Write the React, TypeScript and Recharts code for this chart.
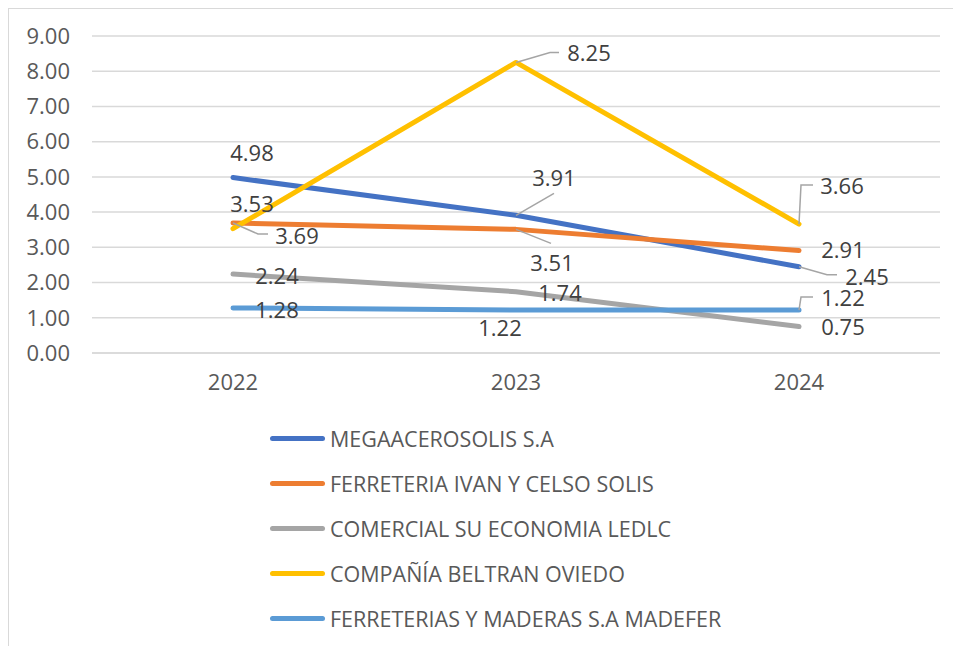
import { LineChart, Line, XAxis, YAxis, CartesianGrid, Legend } from "recharts";

const years = ["2022", "2023", "2024"];
const megaacerosolis = [4.98, 3.91, 2.45];
const ferreteriaIvan = [3.69, 3.51, 2.91];
const comercialSuEconomia = [2.24, 1.74, 0.75];
const companiaBeltran = [3.53, 8.25, 3.66];
const ferreteriasMaderas = [1.28, 1.22, 1.22];
const yTicks = [0, 1, 2, 3, 4, 5, 6, 7, 8, 9];

type Placement = { dx: number; dy: number; leader?: number[][] };

// where each data label sits relative to its point, like the excel callouts
const series: { key: string; name: string; color: string; values: number[]; place: Placement[] }[] = [
  {
    key: "mega",
    name: "MEGAACEROSOLIS S.A",
    color: "#4472C4",
    values: megaacerosolis,
    place: [
      { dx: 19, dy: -25 },
      { dx: 38, dy: -37, leader: [[0, 0], [38, -22]] },
      { dx: 68, dy: 10, leader: [[0, 0], [28, 8], [38, 8]] },
    ],
  },
  {
    key: "ivan",
    name: "FERRETERIA IVAN Y CELSO SOLIS",
    color: "#ED7D31",
    values: ferreteriaIvan,
    place: [
      { dx: 64, dy: 13, leader: [[0, 0], [25, 11], [35, 11]] },
      { dx: 36, dy: 34, leader: [[0, 0], [35, 14]] },
      { dx: 44, dy: 0 },
    ],
  },
  {
    key: "comercial",
    name: "COMERCIAL SU ECONOMIA LEDLC",
    color: "#A5A5A5",
    values: comercialSuEconomia,
    place: [
      { dx: 44, dy: 2 },
      { dx: 44, dy: 1 },
      { dx: 44, dy: 0 },
    ],
  },
  {
    key: "beltran",
    name: "COMPAÑÍA BELTRAN OVIEDO",
    color: "#FFC000",
    values: companiaBeltran,
    place: [
      { dx: 19, dy: -25 },
      { dx: 73, dy: -9, leader: [[0, 0], [34, -10], [43, -10]] },
      { dx: 43, dy: -38, leader: [[0, 0], [2, -39], [14, -39]] },
    ],
  },
  {
    key: "madefer",
    name: "FERRETERIAS Y MADERAS S.A MADEFER",
    color: "#5B9BD5",
    values: ferreteriasMaderas,
    place: [
      { dx: 44, dy: 2 },
      { dx: -16, dy: 18 },
      { dx: 44, dy: -12, leader: [[0, 0], [2, -13], [14, -13]] },
    ],
  },
];

const data = years.map((year, i) => {
  const row: Record<string, string | number> = { year };
  series.forEach((s) => (row[s.key] = s.values[i]));
  return row;
});

const FONT = "'Open Sans', 'Noto Sans', sans-serif";
const FS = 22;

function makeLabel(place: Placement[]) {
  return (props: any) => {
    const { x, y, value, index } = props;
    const p = place[index];
    if (!p || x == null || y == null) return null;
    return (
      <g key={index}>
        {p.leader && (
          <polyline
            points={p.leader.map(([a, b]) => `${x + a},${y + b}`).join(" ")}
            fill="none"
            stroke="#A5A5A5"
            strokeWidth={1.5}
          />
        )}
        <text
          x={x + p.dx}
          y={y + p.dy}
          dy="0.36em"
          textAnchor="middle"
          fontSize={FS}
          fontFamily={FONT}
          fill="#404040"
        >
          {Number(value).toFixed(2)}
        </text>
      </g>
    );
  };
}

function LegendBox() {
  return (
    <div style={{ fontFamily: FONT, fontSize: 21.5, color: "#595959", whiteSpace: "nowrap" }}>
      {series.map((s) => (
        <div key={s.key} style={{ height: 45, display: "flex", alignItems: "center" }}>
          <div style={{ width: 55, height: 4.5, borderRadius: 3, background: s.color, marginRight: 5 }} />
          <span>{s.name}</span>
        </div>
      ))}
    </div>
  );
}

export default function App() {
  return (
    <div style={{ width: 946, height: 640, border: "1px solid #D9D9D9", background: "#fff" }}>
      <LineChart width={946} height={640} data={data} margin={{ top: 27, right: 15, bottom: 266, left: 0 }}>
        <CartesianGrid vertical={false} stroke="#D9D9D9" strokeWidth={1.5} />
        <XAxis
          dataKey="year"
          padding={{ left: 141, right: 141 }}
          axisLine={{ stroke: "#D9D9D9", strokeWidth: 1.5 }}
          tickLine={false}
          tickSize={0}
          tickMargin={21}
          height={30}
          tick={{ fill: "#595959", fontSize: FS, fontFamily: FONT }}
        />
        <YAxis
          domain={[0, 9]}
          ticks={yTicks}
          interval={0}
          width={83}
          axisLine={false}
          tickLine={false}
          tickSize={0}
          tickMargin={22}
          tickFormatter={(v: number) => v.toFixed(2)}
          tick={{ fill: "#595959", fontSize: FS, fontFamily: FONT }}
        />
        <Legend
          layout="vertical"
          align="center"
          verticalAlign="middle"
          content={() => <LegendBox />}
          wrapperStyle={{ position: "absolute", left: 261, top: 407, width: 560 }}
        />
        {series.map((s) => (
          <Line
            key={s.key}
            type="linear"
            dataKey={s.key}
            name={s.name}
            stroke={s.color}
            strokeWidth={5}
            strokeLinecap="round"
            strokeLinejoin="round"
            dot={false}
            activeDot={false}
            label={makeLabel(s.place)}
            isAnimationActive={false}
          />
        ))}
      </LineChart>
    </div>
  );
}
